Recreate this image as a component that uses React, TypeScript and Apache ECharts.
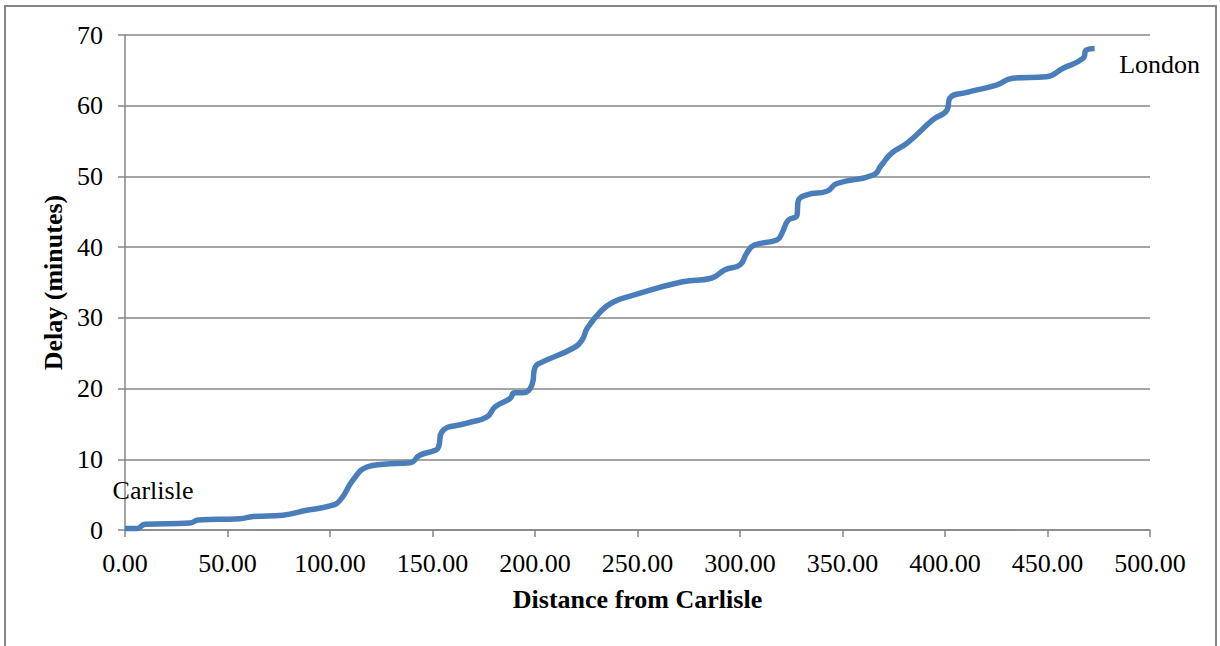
import React, { useEffect, useRef } from "react";
import * as echarts from "echarts";

const distance = [
  0, 5.6, 9.8, 31.7, 35.8, 56, 62.6, 77, 88.6, 100, 104.9, 111.3, 118, 126, 139, 144,
  151.7, 153, 154.6, 166.8, 176.6, 180.5, 187.8, 190, 194, 198.5, 200, 202.4, 218.5,
  223, 225.4, 231.7, 238, 248, 272, 286, 292.7, 300, 303.4, 307, 318, 320.5, 323.5,
  327.8, 328.3, 332.7, 342.4, 347.3, 365, 369, 374, 381.5, 394, 401, 402.4, 410.7,
  425, 433, 449.5, 457.6, 467.3, 469, 473,
];
const delay = [
  0.2, 0.2, 0.8, 1.0, 1.4, 1.6, 1.9, 2.1, 2.8, 3.4, 4.2, 7.1, 8.9, 9.3, 9.5, 10.6,
  11.3, 11.8, 13.9, 15.1, 16.0, 17.4, 18.6, 19.4, 19.4, 20.5, 23.0, 23.6, 25.7,
  26.9, 28.5, 30.8, 32.2, 33.2, 35.1, 35.6, 36.8, 37.5, 39.2, 40.3, 41.0, 42.0, 43.8,
  44.5, 46.4, 47.4, 47.9, 49.0, 50.2, 51.6, 53.3, 54.7, 58.0, 59.4, 61.1, 61.9,
  62.9, 63.9, 64.1, 65.3, 66.7, 67.9, 68.1,
];
const startLabel = "Carlisle";
const endLabel = "London";
const xTitle = "Distance from Carlisle";
const yTitle = "Delay (minutes)";

const FONT = "'Liberation Serif', 'Times New Roman', serif";
const GRAY = "#868686";
const FS = 26;

export default function App() {
  const ref = useRef<HTMLDivElement>(null);
  useEffect(() => {
    if (!ref.current) return;
    const chart = echarts.init(ref.current, null, { renderer: "svg" });
    const data = distance.map((d, i) => [d, delay[i]]);
    const n = data.length - 1;
    chart.setOption({
      animation: false,
      backgroundColor: "#ffffff",
      textStyle: { fontFamily: FONT },
      graphic: [
        {
          type: "rect",
          shape: { x: 5, y: 6, width: 1211, height: 660 },
          style: { fill: "none", stroke: GRAY, lineWidth: 2 },
          silent: true,
        },
      ],
      grid: { left: 125, right: 70, top: 35, bottom: 116 },
      xAxis: {
        type: "value",
        min: 0,
        max: 500,
        interval: 50,
        name: xTitle,
        nameLocation: "middle",
        nameGap: 56,
        nameTextStyle: { fontFamily: FONT, fontSize: FS, fontWeight: "bold", color: "#000" },
        axisLine: { show: true, lineStyle: { color: GRAY, width: 1.5 } },
        axisTick: { show: true, length: 7, lineStyle: { color: GRAY, width: 1.5 } },
        splitLine: { show: false },
        axisLabel: {
          fontFamily: FONT,
          fontSize: FS,
          color: "#000",
          margin: 20,
          formatter: (v: number) => v.toFixed(2),
        },
      },
      yAxis: {
        type: "value",
        min: 0,
        max: 70,
        interval: 10,
        name: yTitle,
        nameLocation: "middle",
        nameGap: 58,
        nameRotate: 90,
        nameTextStyle: { fontFamily: FONT, fontSize: FS, fontWeight: "bold", color: "#000" },
        axisLine: { show: true, lineStyle: { color: GRAY, width: 1.5 } },
        axisTick: { show: true, length: 7, lineStyle: { color: GRAY, width: 1.5 } },
        splitLine: { show: true, lineStyle: { color: GRAY, width: 1.5 } },
        axisLabel: { fontFamily: FONT, fontSize: FS, color: "#000", margin: 22 },
      },
      series: [
        {
          type: "line",
          data,
          smooth: 0.5,
          showSymbol: false,
          symbol: "none",
          lineStyle: { color: "#4A7EBB", width: 5.5 },
          markPoint: {
            symbol: "circle",
            symbolSize: 0,
            silent: true,
            data: [
              {
                coord: data[0],
                label: {
                  show: true,
                  formatter: startLabel,
                  position: "inside",
                  offset: [28, -38],
                  fontFamily: FONT,
                  fontSize: FS,
                  color: "#000",
                },
              },
              {
                coord: data[n],
                label: {
                  show: true,
                  formatter: endLabel,
                  position: "inside",
                  offset: [65, 16],
                  fontFamily: FONT,
                  fontSize: FS,
                  color: "#000",
                },
              },
            ],
          },
        },
      ],
    });
    return () => chart.dispose();
  }, []);
  return (
    <div
      ref={ref}
      style={{ position: "fixed", left: 0, top: 0, width: 1220, height: 646, background: "#fff" }}
    />
  );
}
